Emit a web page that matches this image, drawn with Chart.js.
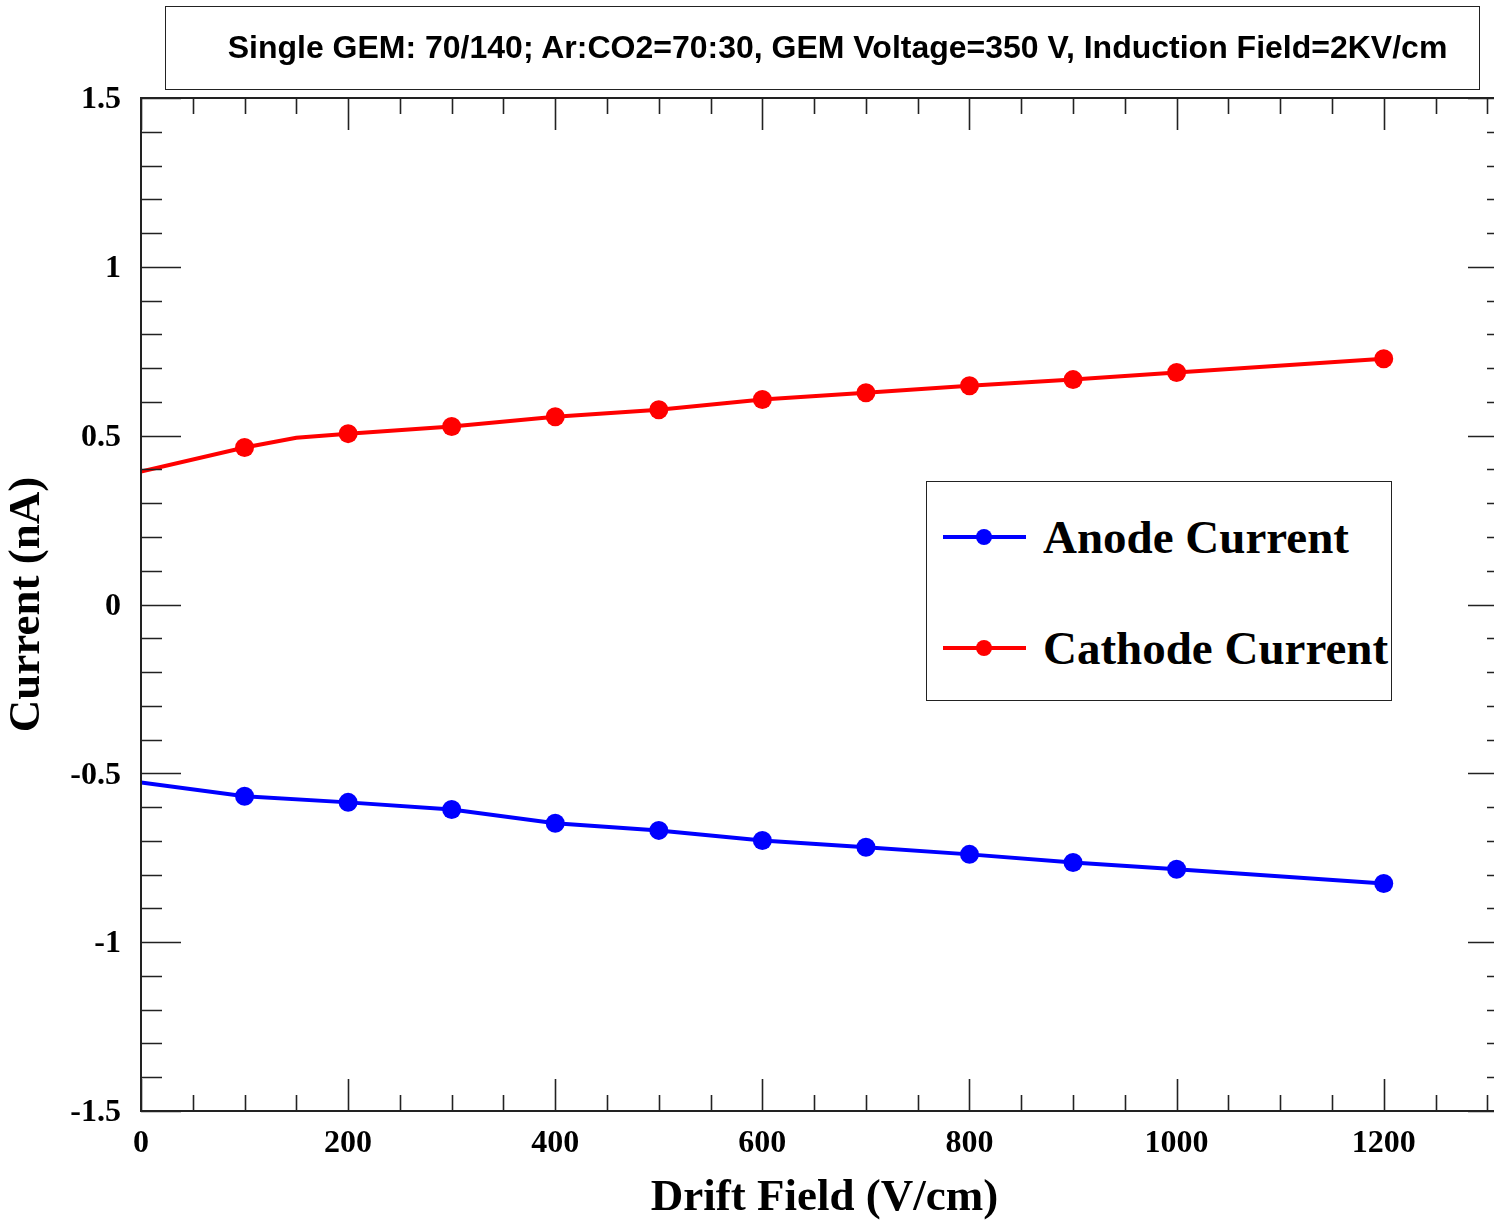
<!DOCTYPE html>
<html>
<head>
<meta charset="utf-8">
<script src="https://cdn.jsdelivr.net/npm/chart.js@4"></script>
<style>
  html, body { margin: 0; padding: 0; background: #fff; }
  #wrap { position: relative; width: 1494px; height: 1226px; overflow: hidden; }
  #c { position: absolute; left: 0; top: 0; width: 1508px; height: 1226px; }
  #title {
    position: absolute; left: 165px; top: 6px; width: 1313px; height: 82px;
    border: 1.5px solid #222; box-sizing: content-box;
    font-family: "Liberation Sans", Arial, sans-serif; font-weight: bold; font-size: 32px;
    display: flex; align-items: center; justify-content: center;
    color: #000; white-space: nowrap;
  }
  #title span { position: relative; left: 15px; top: -1px; }
  #legend {
    position: absolute; left: 926px; top: 481px; width: 464px; height: 218px;
    border: 1.5px solid #222; background: #fff;
    font-family: "Liberation Serif", "Times New Roman", serif; font-weight: bold; font-size: 47px; color: #000;
  }
  .entry { position: absolute; left: 0; height: 60px; width: 100%; }
  .entry .ln { position: absolute; left: 16px; width: 83px; top: 28px; height: 4px; }
  .entry .mk { position: absolute; left: 49px; top: 22px; width: 16px; height: 16px; border-radius: 50%; }
  .entry .tx { position: absolute; left: 116px; top: 0; line-height: 60px; white-space: nowrap; }
</style>
</head>
<body>
<div id="wrap">
  <canvas id="c" width="1508" height="1226"></canvas>
  <div id="title"><span>Single GEM: 70/140; Ar:CO2=70:30, GEM Voltage=350 V, Induction Field=2KV/cm</span></div>
  <div id="legend">
    <div class="entry" style="top:25px"><div class="ln" style="background:#0000ff"></div><div class="mk" style="background:#0000ff"></div><div class="tx">Anode Current</div></div>
    <div class="entry" style="top:136px"><div class="ln" style="background:#ff0000"></div><div class="mk" style="background:#ff0000"></div><div class="tx">Cathode Current</div></div>
  </div>
</div>
<script>
// ---- data ----
const anodeField = [0, 100, 200, 300, 400, 500, 600, 700, 800, 900, 1000, 1200];
const anodeCurrent = [-0.527, -0.568, -0.586, -0.607, -0.648, -0.669, -0.699, -0.719, -0.740, -0.764, -0.784, -0.826];
const cathodeField = [0, 100, 150, 200, 300, 400, 500, 600, 700, 800, 900, 1000, 1200];
const cathodeCurrent = [0.394, 0.465, 0.494, 0.506, 0.527, 0.556, 0.577, 0.607, 0.627, 0.648, 0.666, 0.687, 0.728];
const xTickLabels = [0, 200, 400, 600, 800, 1000, 1200];
const yTickLabels = [-1.5, -1, -0.5, 0, 0.5, 1, 1.5];
const xRange = [0, 1320];
const yRange = [-1.5, 1.5];

const toPts = (xs, ys) => xs.map((x, i) => ({ x: x, y: ys[i] }));
const markerRadius = ctx => {
  const p = ctx.raw;
  if (!p) return 0;
  return (p.x === 0 || p.x % 100 !== 0) ? 0 : 9.5;
};

const frameTicks = {
  id: 'frameTicks',
  afterDatasetsDraw(chart) {
    const { ctx, chartArea: a, scales: { x, y } } = chart;
    ctx.save();
    ctx.strokeStyle = '#222';
    ctx.lineWidth = 1.6;
    ctx.beginPath();
    for (let v = xRange[0]; v <= xRange[1] + 1e-9; v += 50) {
      const px = Math.round(x.getPixelForValue(v)) + 0.5;
      const len = (v % 200 === 0) ? 32 : 16;
      ctx.moveTo(px, a.bottom); ctx.lineTo(px, a.bottom - len);
      ctx.moveTo(px, a.top); ctx.lineTo(px, a.top + len);
    }
    for (let i = 0; i <= 30; i++) {
      const v = yRange[0] + i * 0.1;
      const py = Math.round(y.getPixelForValue(v)) + 0.5;
      const len = (i % 5 === 0) ? 40 : 21;
      ctx.moveTo(a.left, py); ctx.lineTo(a.left + len, py);
      ctx.moveTo(a.right, py); ctx.lineTo(a.right - len, py);
    }
    ctx.stroke();
    ctx.lineWidth = 2;
    ctx.strokeRect(a.left, a.top, a.right - a.left, a.bottom - a.top);
    ctx.restore();
  }
};

new Chart(document.getElementById('c'), {
  type: 'line',
  data: {
    datasets: [
      {
        label: 'Anode Current',
        data: toPts(anodeField, anodeCurrent),
        borderColor: '#0000ff', backgroundColor: '#0000ff',
        borderWidth: 4, pointRadius: markerRadius, pointBorderWidth: 0,
        pointHoverRadius: markerRadius, tension: 0
      },
      {
        label: 'Cathode Current',
        data: toPts(cathodeField, cathodeCurrent),
        borderColor: '#ff0000', backgroundColor: '#ff0000',
        borderWidth: 4, pointRadius: markerRadius, pointBorderWidth: 0,
        pointHoverRadius: markerRadius, tension: 0
      }
    ]
  },
  options: {
    responsive: false,
    maintainAspectRatio: false,
    animation: false,
    events: [],
    devicePixelRatio: 1,
    layout: { autoPadding: false, padding: { top: 98, right: 0, left: 0, bottom: 0 } },
    plugins: { legend: { display: false }, tooltip: { enabled: false }, title: { display: false } },
    scales: {
      x: {
        type: 'linear', min: xRange[0], max: xRange[1],
        afterFit: s => { s.height = 115; s.paddingLeft = 0; s.paddingRight = 0; },
        afterBuildTicks: s => { s.ticks = xTickLabels.map(v => ({ value: v })); },
        grid: { display: false, drawTicks: false },
        border: { display: false },
        ticks: {
          padding: 14, maxRotation: 0, autoSkip: false,
          color: '#000',
          font: { family: 'Liberation Serif', weight: 'bold', size: 32 },
          callback: v => String(v)
        },
        title: {
          display: true, text: 'Drift Field (V/cm)', color: '#000',
          font: { family: 'Liberation Serif', weight: 'bold', size: 45, lineHeight: 1 },
          padding: { top: 0, bottom: 5 }
        }
      },
      y: {
        type: 'linear', min: yRange[0], max: yRange[1],
        afterFit: s => { s.width = 141; s.paddingTop = 0; s.paddingBottom = 0; },
        afterBuildTicks: s => { s.ticks = yTickLabels.map(v => ({ value: v })); },
        grid: { display: false, drawTicks: false },
        border: { display: false },
        ticks: {
          padding: 20, autoSkip: false, color: '#000', labelOffset: 2,
          font: { family: 'Liberation Serif', weight: 'bold', size: 32 },
          callback: v => String(v)
        },
        title: {
          display: true, text: 'Current (nA)', color: '#000',
          font: { family: 'Liberation Serif', weight: 'bold', size: 45, lineHeight: 1 },
          padding: { top: 5, bottom: 0 }
        }
      }
    }
  },
  plugins: [frameTicks]
});
</script>
</body>
</html>
